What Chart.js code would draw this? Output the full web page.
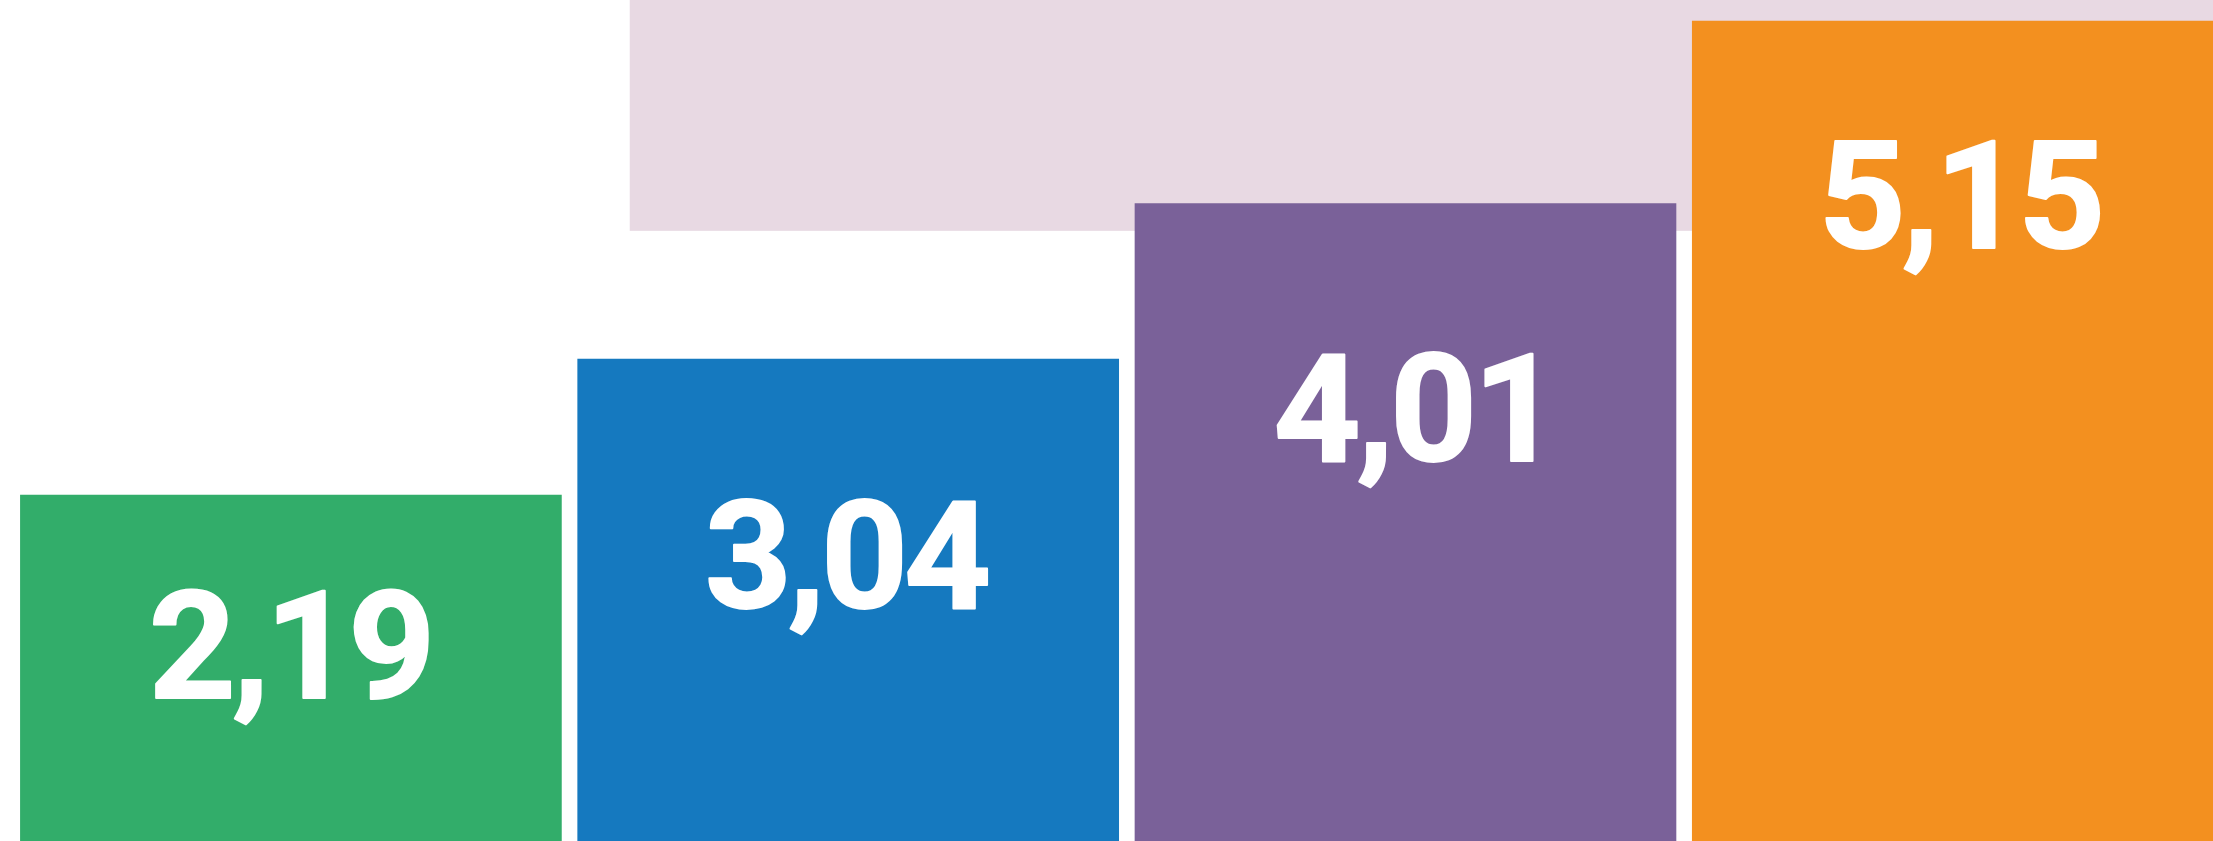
<!DOCTYPE html>
<html>
<head>
<meta charset="utf-8">
<script src="https://cdn.jsdelivr.net/npm/chart.js@4/dist/chart.umd.min.js"></script>
<style>
  html, body { margin: 0; padding: 0; background: #ffffff; }
  #wrap { width: 2213px; height: 841px; position: relative; }
</style>
</head>
<body>
<div id="wrap"><canvas id="c" width="2213" height="841"></canvas></div>
<script>
// ---- data ----
const categories = ["A", "B", "C", "D"];
const values = [2.19, 3.04, 4.01, 5.15];
const barColors = ["#32AD6A", "#1579BF", "#7A6199", "#F3901F"];
// target band (pink area behind bars), in value units
const bandLow = 3.84;

// ---- layout config (not data) ----
const xMin = -0.522, xMax = 3.449;
const yMin = 0.031, yMax = 5.281;
const bandXStart = 0.608;
const labelBaselineOffsets = [204, 250, 258, 228];
const labelCapHeight = 110;
const labelInkWidths = [257, 301, 270, 255];
const labelStroke = 2;

const points = values.map((v, i) => ({ x: i, y: v }));
const fmt = v => v.toFixed(2).replace('.', ',');

const bandPlugin = {
  id: 'band',
  beforeDatasetsDraw(chart) {
    const { ctx, chartArea, scales } = chart;
    const x0 = scales.x.getPixelForValue(bandXStart);
    const yTop = scales.y.getPixelForValue(yMax);
    const yBot = scales.y.getPixelForValue(bandLow);
    ctx.save();
    ctx.fillStyle = '#E8D9E3';
    ctx.fillRect(x0, yTop, chartArea.right - x0, yBot - yTop);
    ctx.restore();
  }
};

const labelPlugin = {
  id: 'vlabels',
  afterDatasetsDraw(chart) {
    const { ctx } = chart;
    const meta = chart.getDatasetMeta(0);
    ctx.save();
    ctx.font = 'bold 100px Roboto';
    const asc = ctx.measureText('0123456789').actualBoundingBoxAscent;
    const size = 100 * labelCapHeight / asc;
    ctx.font = 'bold ' + size.toFixed(1) + 'px Roboto';
    if ('letterSpacing' in ctx) ctx.letterSpacing = '-4px';
    let measured = 0, target = 0;
    values.forEach((v, i) => {
      const m = ctx.measureText(fmt(v));
      measured += m.actualBoundingBoxLeft + m.actualBoundingBoxRight;
      target += labelInkWidths[i];
    });
    const sx = target / measured;
    ctx.fillStyle = '#ffffff';
    ctx.strokeStyle = '#ffffff';
    ctx.lineJoin = 'round';
    ctx.textAlign = 'left';
    ctx.textBaseline = 'alphabetic';
    meta.data.forEach((bar, i) => {
      const txt = fmt(values[i]);
      const m = ctx.measureText(txt);
      const inkC = (-m.actualBoundingBoxLeft + m.actualBoundingBoxRight) / 2;
      const y = bar.y + labelBaselineOffsets[i] - labelStroke / 2;
      ctx.save();
      ctx.translate(bar.x, y);
      ctx.scale(sx, 1);
      ctx.lineWidth = labelStroke / sx;
      ctx.fillText(txt, -inkC, 0);
      ctx.strokeText(txt, -inkC, 0);
      ctx.restore();
    });
    ctx.restore();
  }
};

function draw() {
  new Chart(document.getElementById('c'), {
    type: 'bar',
    data: {
      labels: categories,
      datasets: [{
        data: points,
        backgroundColor: barColors,
        borderWidth: 0,
        barThickness: 541
      }]
    },
    options: {
      responsive: false,
      animation: false,
      devicePixelRatio: 1,
      layout: { padding: 0 },
      plugins: { legend: { display: false }, tooltip: { enabled: false } },
      scales: {
        x: { type: 'linear', min: xMin, max: xMax, offset: false, display: false },
        y: { type: 'linear', min: yMin, max: yMax, display: false }
      }
    },
    plugins: [bandPlugin, labelPlugin]
  });
}
if (document.fonts && document.fonts.load) {
  document.fonts.load('bold 100px Roboto').then(draw, draw);
} else {
  draw();
}
</script>
</body>
</html>
